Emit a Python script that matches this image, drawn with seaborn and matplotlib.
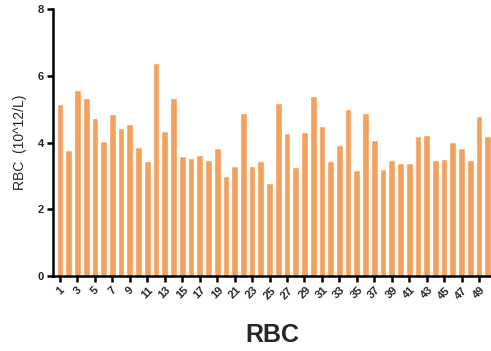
import matplotlib
matplotlib.use("Agg")
import matplotlib.pyplot as plt
import seaborn as sns
import pandas as pd

# RBC count per sample (10^12/L)
samples = list(range(1, 51))
rbc = [5.15, 3.77, 5.57, 5.33, 4.75, 4.06, 4.85, 4.44, 4.57, 3.86,
       3.44, 6.37, 4.35, 5.33, 3.59, 3.55, 3.62, 3.47, 3.85, 3.01,
       3.30, 4.90, 3.30, 3.44, 2.79, 5.20, 4.28, 3.27, 4.33, 5.40,
       4.50, 3.44, 3.94, 5.02, 3.19, 4.89, 4.09, 3.21, 3.48, 3.39,
       3.39, 4.20, 4.24, 3.49, 3.50, 4.01, 3.85, 3.49, 4.80, 4.20]
y_ticks = [0, 2, 4, 6, 8]

df = pd.DataFrame({"sample": [str(s) for s in samples], "rbc": rbc})

sns.set_theme(style="ticks")
plt.rcParams["font.family"] = ["Liberation Sans", "DejaVu Sans"]

fig = plt.figure(figsize=(4.91, 3.51), dpi=100)
ax = fig.add_axes([0.108, 0.2137, 0.892, 0.7603])

sns.barplot(data=df, x="sample", y="rbc", color="#F3A15C", saturation=1,
            width=0.77, ax=ax, order=[str(s) for s in samples])

ax.set_ylim(0, 8)
ax.set_yticks(y_ticks)
ax.set_yticklabels([str(t) for t in y_ticks], fontsize=8, fontweight="bold")
ax.set_xlim(-0.8, 49.37)
pos = list(range(0, 50, 2))
ax.set_xticks(pos)
ax.set_xticklabels([str(samples[p]) for p in pos], rotation=45,
                   ha="center", va="top", fontsize=8, fontweight="bold")

for side in ("top", "right"):
    ax.spines[side].set_visible(False)
for side in ("left", "bottom"):
    ax.spines[side].set_linewidth(1.8)
    ax.spines[side].set_color("black")
ax.tick_params(axis="both", length=4.5, width=1.8, color="black", pad=2)

ax.set_ylabel("RBC  (10^12/L)", fontsize=10, labelpad=8)
ax.set_xlabel("RBC", fontsize=18, fontweight="bold", labelpad=16)

fig.savefig("out.png", dpi=100)
